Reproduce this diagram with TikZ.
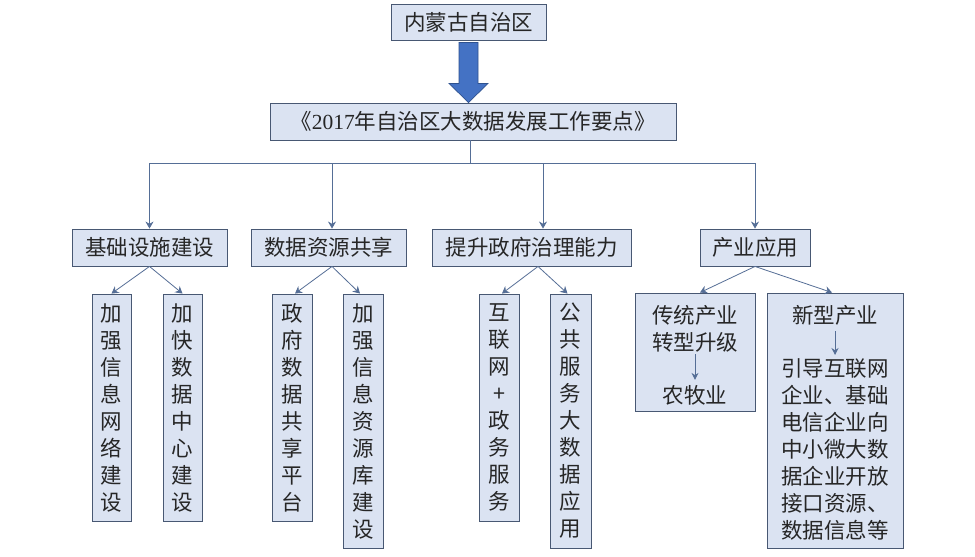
\documentclass[tikz,border=0pt]{standalone}
\usepackage{fontspec}
\setmainfont{Liberation Serif}
\newfontfamily\cjk{Noto Sans CJK SC}
\usetikzlibrary{arrows.meta,calc}
\definecolor{boxfill}{RGB}{219,227,242}
\definecolor{boxline}{RGB}{72,88,115}
\definecolor{connc}{RGB}{85,110,150}
\definecolor{bigblue}{RGB}{68,114,196}
\definecolor{bigedge}{RGB}{47,82,143}
\begin{document}
\begin{tikzpicture}[x=1pt,y=-1pt,
  box/.style={draw=boxline, fill=boxfill, line width=0.9pt, inner sep=0pt,
    font=\cjk\fontsize{21.5}{27}\selectfont, text=black!85, align=center},
  lbl/.style={inner sep=0pt, font=\cjk\fontsize{21.5}{27}\selectfont, text=black!85, align=center},
  conn/.style={draw=connc, line width=0.8pt},
  arr/.style={conn, -{Stealth[length=7pt,width=8pt]}},
  smallarr/.style={conn, line width=0.9pt, -{Stealth[length=7pt,width=7pt]}}]
\useasboundingbox (0,0) rectangle (975,557);
\fill[white] (0,0) rectangle (975,557);

% level 0 and 1
\node[box, minimum width=155, minimum height=36] (top) at (468.5,22) {内蒙古自治区};
\node[box, minimum width=406, minimum height=37] (doc) at (473,121.5)
  {《{\rmfamily 2017}年自治区大数据发展工作要点》};

% big arrow
\draw[fill=bigblue, draw=bigedge, line width=0.7pt]
  ($(top.south)+(-9.5,2)$) -- ($(top.south)+(-9.5,43)$) -- ($(top.south)+(-19.5,43)$)
  -- (doc.north -| top.south) -- ($(top.south)+(19.5,43)$) -- ($(top.south)+(9.5,43)$)
  -- ($(top.south)+(9.5,2)$) -- cycle;

% level 2
\node[box, minimum width=155, minimum height=37] (b1) at (149.5,247.5) {基础设施建设};
\node[box, minimum width=155, minimum height=37] (b2) at (328.5,247.5) {数据资源共享};
\node[box, minimum width=199, minimum height=37] (b3) at (531.5,247.5) {提升政府治理能力};
\node[box, minimum width=110, minimum height=37] (b4) at (755,247.5) {产业应用};

% junction
\coordinate (jn) at (470,163);
\draw[conn] (doc.south -| jn) -- (jn);
\draw[arr] (jn) -| (b1.north);
\draw[arr] (jn) -| ([xshift=3.5pt]b2.north);
\draw[arr] (jn) -| ([xshift=11.5pt]b3.north);
\draw[arr] (jn) -| (b4.north);

% level 3
\node[box, minimum width=39, minimum height=227] (c1) at (111.5,407.5)
  {加\\强\\信\\息\\网\\络\\建\\设};
\node[box, minimum width=39, minimum height=227] (c2) at (182.5,407.5)
  {加\\快\\数\\据\\中\\心\\建\\设};
\node[box, minimum width=40, minimum height=227] (c3) at (292,407.5)
  {政\\府\\数\\据\\共\\享\\平\\台};
\node[box, minimum width=40, minimum height=254] (c4) at (363,421)
  {加\\强\\信\\息\\资\\源\\库\\建\\设};
\node[box, minimum width=40, minimum height=227] (c5) at (499,407.5)
  {互\\联\\网\\+\\政\\务\\服\\务};
\node[box, minimum width=41, minimum height=254] (c6) at (570.5,421)
  {公\\共\\服\\务\\大\\数\\据\\应\\用};
\node[box, minimum width=120, minimum height=118] (c7) at (695,352) {};
\node[box, minimum width=136, minimum height=255] (c8) at (835,420.5) {};

\node[lbl] (t7a) at (695,328.5) {传统产业\\转型升级};
\node[lbl] (t7b) at (695,395) {农牧业};
\draw[smallarr, shorten <=2pt, shorten >=5pt] (t7a.south) -- (t7b.north);

\node[lbl] (t8a) at (835,315) {新型产业};
\node[lbl] (t8b) at (835,449)
  {引导互联网\\企业、基础\\电信企业向\\中小微大数\\据企业开放\\接口资源、\\数据信息等};
\draw[smallarr, shorten <=6pt, shorten >=3pt] (t8a.south) -- (t8b.north);

% level 2 -> 3
\draw[arr] (b1.south) -- (c1.north);
\draw[arr] (b1.south) -- (c2.north);
\draw[arr] ([xshift=3.5pt]b2.south) -- ([xshift=3pt]c3.north);
\draw[arr] ([xshift=3.5pt]b2.south) -- ([xshift=-3pt]c4.north);
\draw[arr] ([xshift=6.5pt]b3.south) -- ([xshift=3pt]c5.north);
\draw[arr] ([xshift=6.5pt]b3.south) -- ([xshift=-3pt]c6.north);
\draw[arr] (b4.south) -- ([xshift=5pt]c7.north);
\draw[arr] (b4.south) -- ([xshift=-3pt]c8.north);
\end{tikzpicture}
\end{document}
